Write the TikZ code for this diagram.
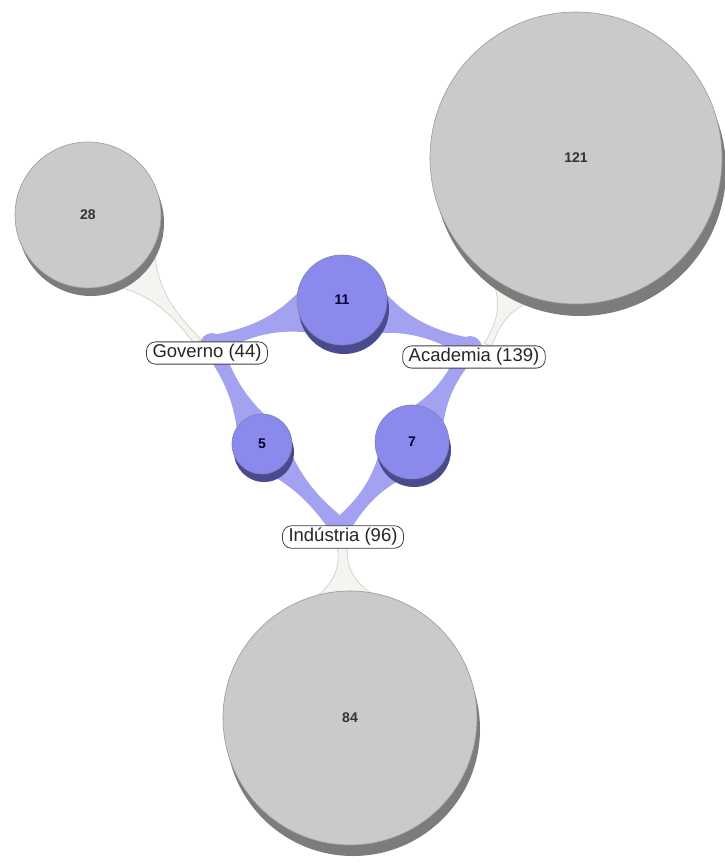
\documentclass[tikz,border=0pt]{standalone}
\usepackage{fontspec}
\setmainfont{Liberation Sans}
\usetikzlibrary{calc,shadows}
\definecolor{bluef}{HTML}{8A8AEC}
\definecolor{bluesh}{HTML}{4A4A8E}
\definecolor{blueband}{HTML}{A2A2F0}
\definecolor{grayf}{HTML}{CACACA}
\definecolor{graysh}{HTML}{7C7C7C}
\definecolor{grayband}{HTML}{F4F4F0}
\definecolor{grayline}{HTML}{D4D4D0}
% #1 hub, #2 circle centre, #3 distance of band end from centre,
% #4 half width at hub, #5 half width of waist, #6 half width at circle, #7 style
\newcommand\drawband[7]{%
  \coordinate (bandend) at ($(#2)!#3!(#1)$);
  \coordinate (bandqa) at ($(#1)!0.35!(bandend)$);
  \coordinate (bandqb) at ($(#1)!0.65!(bandend)$);
  \path[#7] ($(#1)!#4!90:(bandend)$) .. controls ($(bandqa)!#5!90:(bandend)$) and ($(bandqb)!#5!90:(bandend)$) .. ($(bandend)!#6!-90:(#1)$)
     -- ($(bandend)!#6!90:(#1)$) .. controls ($(bandqb)!#5!-90:(bandend)$) and ($(bandqa)!#5!-90:(bandend)$) .. ($(#1)!#4!-90:(bandend)$) -- cycle;}
\tikzset{
  bb/.style={fill=blueband},
  gb/.style={fill=grayband, draw=grayline, line width=0.8pt},
  gface/.style={circle, fill=grayf, draw=black!40, line width=0.6pt, inner sep=0pt,
    font=\fontsize{14}{16}\selectfont\bfseries, text=black!80},
  bface/.style={circle, fill=bluef, draw=bluesh!70, line width=0.6pt, inner sep=0pt,
    font=\fontsize{14}{16}\selectfont\bfseries, text=blue!20!black},
  lab/.style={draw=black!75, fill=white, rounded corners=9pt, line width=0.8pt,
    inner xsep=6pt, inner ysep=2.5pt, font=\fontsize{18.5}{20}\selectfont, text=black!85},
}
\begin{document}
\begin{tikzpicture}[x=1pt,y=-1pt]
\useasboundingbox (0,0) rectangle (724,862);
% centres and hubs
\coordinate (p28) at (88,215);
\coordinate (p121) at (576,158);
\coordinate (p84) at (350,718);
\coordinate (p11) at (342,300);
\coordinate (p5) at (262,444);
\coordinate (p7) at (412,442);
\coordinate (gh) at (212,345);
\coordinate (ah) at (470,348);
\coordinate (ih) at (340,528);
\coordinate (ghg) at (198,342);
\coordinate (ahg) at (488,345);
\coordinate (ihg) at (342,540);
% grey bands
\drawband{ghg}{p28}{66pt}{4pt}{2pt}{30pt}{gb}
\drawband{ahg}{p121}{140pt}{4pt}{2pt}{30pt}{gb}
\drawband{ihg}{p84}{121pt}{6pt}{3pt}{30pt}{gb}
% blue bands
\drawband{gh}{p11}{38pt}{10pt}{4pt}{22pt}{bb}
\drawband{ah}{p11}{38pt}{10pt}{4pt}{22pt}{bb}
\drawband{gh}{p5}{24pt}{10pt}{5pt}{16pt}{bb}
\drawband{ah}{p7}{30pt}{10pt}{5pt}{18pt}{bb}
\drawband{ih}{p5}{24pt}{10pt}{5pt}{16pt}{bb}
\drawband{ih}{p7}{30pt}{10pt}{5pt}{18pt}{bb}
\fill[blueband] (gh) circle (12);
\fill[blueband] (ah) circle (12);
\fill[blueband] (ih) circle (12);
% circles
\node[gface, minimum size=146pt, drop shadow={shadow xshift=3pt, shadow yshift=-8pt, fill=graysh, opacity=1}] (n28) at (p28) {28};
\node[gface, minimum size=292pt, drop shadow={shadow xshift=4pt, shadow yshift=-12pt, fill=graysh, opacity=1}] (n121) at (p121) {121};
\node[gface, minimum size=254pt, drop shadow={shadow xshift=3pt, shadow yshift=-11pt, fill=graysh, opacity=1}] (n84) at (p84) {84};
\node[bface, minimum size=90pt, drop shadow={shadow xshift=2pt, shadow yshift=-9pt, fill=bluesh, opacity=1}] (n11) at (p11) {11};
\node[bface, minimum size=60pt, drop shadow={shadow xshift=2pt, shadow yshift=-8pt, fill=bluesh, opacity=1}] (n5) at (p5) {5};
\node[bface, minimum size=74pt, drop shadow={shadow xshift=2pt, shadow yshift=-8pt, fill=bluesh, opacity=1}] (n7) at (p7) {7};
% labels
\node[lab] (gov) at (207,353) {Governo (44)};
\node[lab] (aca) at (474,357) {Academia (139)};
\node[lab] (ind) at (343,537) {Indústria (96)};
\end{tikzpicture}
\end{document}
